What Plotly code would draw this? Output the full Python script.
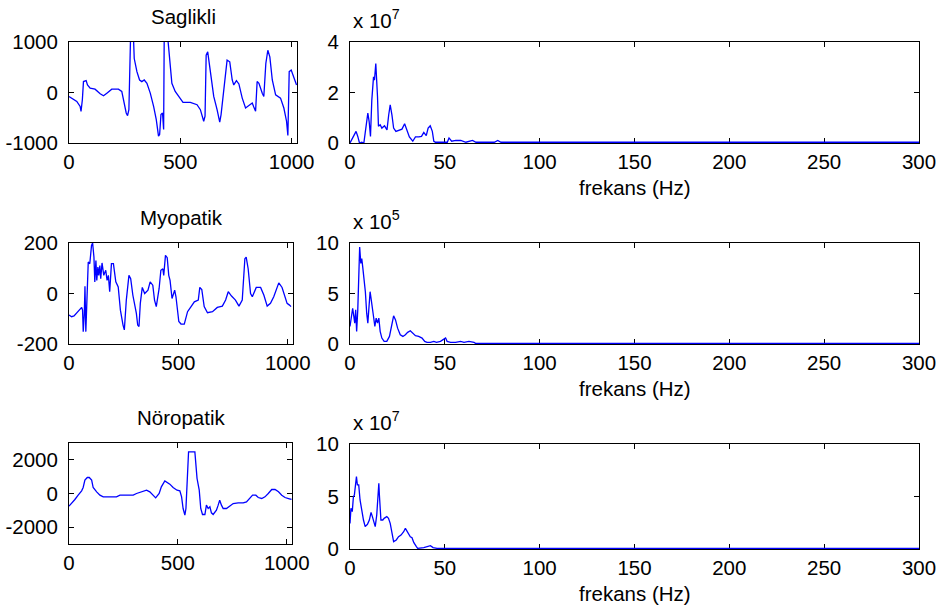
import plotly.graph_objects as go

# ---------------- data ----------------
# Time signals (sample index, amplitude)
sag_n = [0, 35, 50, 54, 60, 65, 77, 83, 95, 117, 140, 155, 170, 192, 222, 237, 257, 263, 269, 272, 278, 287,
         293, 305, 317, 327, 338, 350, 365, 380, 392, 402, 407, 413, 420, 425, 428, 437, 447, 455, 462, 477,
         497, 512, 545, 575, 590, 605, 611, 616, 623, 635, 650, 665, 677, 683, 698, 710, 722, 733, 740, 752,
         763, 778, 793, 808, 823, 830, 838, 845, 853, 868, 875, 884, 893, 902, 913, 928, 950, 965, 977, 983,
         989, 998, 1010, 1022]
sag_v = [-78, -176, -275, -373, -144, 216, 235, 150, 85, 65, -26, -65, -13, 65, 65, 20, -405, -458, -340, 575,
         1400, 1400, 673, 412, 248, 216, 248, 183, -13, -275, -536, -863, -830, -438, -405, -732, 1400, 1400,
         902, 510, 183, 20, -111, -196, -196, -242, -340, -569, -470, 739, 804, 444, -78, -340, -588, -438,
         118, 641, 608, 248, 150, 235, 170, -111, -307, -261, -209, -288, -373, 216, 183, -13, -78, 575, 837,
         706, 248, -46, -111, -307, -569, -850, 412, 444, 314, 150]

myo_n = [0, 12, 23, 42, 58, 62, 65, 70, 73, 77, 83, 88, 95, 103, 108, 114, 118, 123, 127, 132, 136, 141, 145,
         151, 159, 168, 174, 180, 186, 194, 203, 214, 225, 235, 247, 253, 262, 274, 282, 292, 308, 314, 320,
         326, 335, 346, 361, 371, 383, 391, 399, 412, 420, 429, 433, 441, 449, 456, 462, 471, 483, 489, 502,
         512, 527, 542, 558, 573, 591, 598, 607, 618, 633, 656, 678, 701, 716, 728, 743, 761, 777, 792, 804,
         810, 819, 830, 838, 856, 876, 891, 906, 921, 936, 959, 974, 986, 997, 1008, 1015]
myo_v = [-85, -92, -89, -72, -55, -66, -151, -79, 29, -151, 0, 125, 118, 190, 200, 144, 46, 131, 52, 105, 72,
         111, 59, 121, 72, 92, 52, 72, 7, 118, 118, 46, 26, -66, -125, -144, -26, 72, 59, -7, -79, -125, -131,
         -39, 24, 0, 13, 46, 33, -26, -52, 20, 92, 98, 72, 151, 142, 72, 52, -20, 13, -13, -111, -121, -121,
         -72, -52, -33, -26, 24, 16, -52, -76, -72, -55, -50, -26, 7, -10, -26, -50, -26, 138, 144, 98, 0,
         -13, 24, 24, -7, -50, -39, -13, 42, 24, -13, -39, -46, -52]

nor_n = [0, 12, 27, 42, 58, 65, 73, 84, 93, 104, 111, 127, 142, 157, 188, 218, 234, 295, 310, 333, 356, 371,
         386, 398, 414, 424, 440, 447, 463, 478, 496, 509, 517, 524, 532, 537, 543, 549, 578, 582, 588, 598,
         605, 613, 624, 631, 639, 647, 654, 662, 677, 685, 692, 700, 708, 723, 738, 754, 777, 800, 815, 831,
         843, 858, 869, 885, 900, 915, 931, 946, 962, 977, 992, 1012, 1022]
nor_v = [-750, -594, -356, -99, 158, 356, 792, 950, 950, 792, 356, 99, -99, -198, -198, -198, -99, -99, 0, 99,
         198, 99, -99, -257, 0, 396, 752, 693, 554, 356, 198, 158, -198, -891, -1287, -891, 990, 2475, 2475,
         1782, 891, 198, -891, -1247, -1247, -693, -891, -792, -1148, -1247, -990, -693, -396, -693, -891,
         -891, -752, -594, -554, -554, -495, -297, -99, -99, -238, -297, -198, 0, 238, 238, 99, -99, -238,
         -317, -356]

# Spectra (Hz, magnitude in units of the axis multiplier)
sag_f = [0, 0.9, 2.1, 3.2, 4.1, 5.0, 6.2, 7.3, 8.0, 8.8, 9.4, 10.1, 10.8, 11.5, 12.4, 12.9, 13.6, 14.5, 15.0,
         15.9, 16.8, 18.2, 19.5, 20.4, 21.2, 22.1, 23.0, 24.2, 25.7, 27.4, 28.8, 30.1, 31.3, 33.1, 34.5, 36.3,
         37.7, 38.9, 40.2, 41.2, 42.3, 43.4, 44.2, 45.1, 48.7, 51.3, 52.2, 53.6, 55.8, 58.4, 61.1, 62.8, 64.6,
         66.4, 76.1, 77.9, 79.6, 300]
sag_p = [0, 0.13, 0.26, 0.46, 0.26, 0, 0.03, 0, 0.39, 0.92, 1.18, 0.85, 0.26, 1.70, 2.62, 2.49, 3.15, 1.84,
         0.66, 0.72, 0.59, 0.68, 0.52, 1.11, 1.51, 1.11, 0.59, 0.46, 0.50, 0.55, 0.76, 0.52, 0.24, 0.07, 0.24,
         0.24, 0.26, 0.42, 0.29, 0.59, 0.68, 0.46, 0.07, 0.03, 0.03, 0.03, 0.20, 0.07, 0.10, 0.10, 0.03, 0.07,
         0.10, 0.03, 0.03, 0.10, 0.03, 0.03]

myo_f = [0, 0.9, 1.4, 1.9, 2.5, 3.0, 3.5, 4.1, 4.6, 5.1, 5.7, 6.2, 6.7, 7.4, 8.1, 8.8, 9.4, 9.9, 10.6, 11.1,
         11.7, 12.4, 13.1, 13.8, 14.5, 15.2, 15.9, 16.8, 18.0, 19.4, 20.8, 22.1, 23.0, 24.0, 25.1, 26.5, 27.9,
         29.2, 30.4, 31.8, 33.2, 34.5, 36.2, 38.0, 39.4, 40.6, 42.4, 44.2, 45.6, 47.7, 49.1, 50.4, 51.2, 53.0,
         55.7, 58.3, 60.1, 62.7, 65.4, 66.3, 300]
myo_p = [1.74, 3.05, 3.54, 2.89, 2.07, 3.38, 1.25, 3.38, 7.31, 9.61, 7.97, 8.46, 7.64, 6.66, 5.18, 3.05, 2.07,
         3.38, 5.18, 4.52, 3.38, 2.72, 1.74, 2.56, 2.07, 2.56, 1.25, 0.59, 0.26, 0.26, 0.75, 2.07, 2.79, 2.39,
         1.57, 0.92, 0.75, 0.92, 1.15, 1.31, 1.08, 0.82, 0.75, 0.59, 0.26, 0.16, 0.16, 0.26, 0.16, 0.26, 0.43,
         0.59, 0.26, 0.16, 0.16, 0.26, 0.16, 0.26, 0.16, 0.05, 0.05]

nor_f = [0, 0.5, 1.2, 1.8, 2.3, 2.8, 3.4, 3.9, 4.6, 5.3, 6.2, 7.1, 8.0, 9.2, 10.2, 11.1, 11.8, 12.4, 13.3, 14.1,
         14.7, 15.2, 15.5, 16.3, 17.3, 18.0, 19.4, 20.3, 21.2, 22.1, 23.0, 24.4, 25.6, 26.9, 28.3, 29.2, 30.0,
         30.9, 31.8, 32.7, 33.6, 35.0, 35.7, 38.9, 41.0, 42.4, 43.8, 45.9, 300]
nor_p = [2.44, 3.87, 3.56, 4.98, 5.14, 6.25, 6.89, 6.10, 6.10, 4.67, 3.56, 2.76, 2.13, 2.35, 2.76, 3.49, 3.08,
         2.60, 2.13, 3.24, 5.14, 6.25, 5.14, 2.76, 2.76, 2.92, 3.08, 2.92, 2.44, 1.49, 0.70, 0.86, 1.17, 1.33,
         1.65, 1.97, 1.71, 1.49, 1.17, 1.08, 0.63, 0.22, 0.06, 0.13, 0.22, 0.32, 0.13, 0.06, 0.06]

titles = ["Saglikli", "Myopatik", "Nöropatik"]
exponents = ["7", "5", "7"]
xlabel = "frekans (Hz)"
left_yticks = [[-1000, 0, 1000], [-200, 0, 200], [-2000, 0, 2000]]
left_yranges = [[-1000, 1000], [-200, 200], [-3000, 3000]]
right_yticks = [[0, 2, 4], [0, 5, 10], [0, 5, 10]]
right_yranges = [[0, 4], [0, 10], [0, 10]]
left_xticks = [0, 500, 1000]
right_xticks = [0, 50, 100, 150, 200, 250, 300]

# ---------------- layout geometry (pixels) ----------------
W, H = 937, 609
FONT = "Liberation Sans"
FS = 20.5
BLUE = "rgb(0,0,255)"

def dx(a, b):
    return [a / W, b / W]

def dy(top, bottom):
    return [1 - bottom / H, 1 - top / H]

left_x = [(69, 297), (69, 293), (69, 292)]
left_y = [(42, 143), (243, 344), (443, 544)]
right_x = [(350, 919), (350, 919), (350, 919)]
right_y = [(42, 143), (243, 344), (444, 549)]

signals = [(sag_n, sag_v), (myo_n, myo_v), (nor_n, nor_v)]
spectra = [(sag_f, sag_p), (myo_f, myo_p), (nor_f, nor_p)]

fig = go.Figure()
layout = dict(
    width=W, height=H, margin=dict(l=0, r=0, t=0, b=0, pad=0, autoexpand=False),
    paper_bgcolor="white", plot_bgcolor="white", showlegend=False,
    font=dict(family=FONT, size=FS, color="black"),
    annotations=[],
)

axis_common = dict(
    showline=True, linecolor="black", linewidth=1, mirror="ticks",
    ticks="inside", ticklen=5, tickcolor="black", tickwidth=1,
    showgrid=False, zeroline=False, layer="below traces", automargin=False,
    tickfont=dict(family=FONT, size=FS, color="black"),
)

for i in range(3):
    li = 2 * i + 1
    ri = 2 * i + 2
    lx = "x" if li == 1 else f"x{li}"
    ly = "y" if li == 1 else f"y{li}"
    rx, ry = f"x{ri}", f"y{ri}"

    fig.add_trace(go.Scatter(x=signals[i][0], y=signals[i][1], mode="lines",
                             line=dict(color=BLUE, width=1.3), xaxis=lx, yaxis=ly,
                             hoverinfo="skip"))
    fig.add_trace(go.Scatter(x=spectra[i][0], y=spectra[i][1], mode="lines",
                             line=dict(color=BLUE, width=1.3), xaxis=rx, yaxis=ry,
                             hoverinfo="skip"))

    lxname = "xaxis" if li == 1 else f"xaxis{li}"
    lyname = "yaxis" if li == 1 else f"yaxis{li}"
    layout[lxname] = dict(axis_common, domain=dx(*left_x[i]), anchor=ly, range=[0, 1024],
                          tickvals=left_xticks, ticktext=[str(v) for v in left_xticks])
    layout[lyname] = dict(axis_common, domain=dy(*left_y[i]), anchor=lx, range=left_yranges[i],
                          tickvals=left_yticks[i], ticktext=[str(v) for v in left_yticks[i]],
                          ticklabelstandoff=6)
    layout[f"xaxis{ri}"] = dict(axis_common, domain=dx(*right_x[i]), anchor=ry, range=[0, 300],
                                tickvals=right_xticks, ticktext=[str(v) for v in right_xticks])
    layout[f"yaxis{ri}"] = dict(axis_common, domain=dy(*right_y[i]), anchor=rx, range=right_yranges[i],
                                tickvals=right_yticks[i], ticktext=[str(v) for v in right_yticks[i]],
                                ticklabelstandoff=6)

    # subplot title over left panel
    cx = (left_x[i][0] + left_x[i][1]) / 2 / W
    layout["annotations"].append(dict(
        text=titles[i], x=cx, y=1 - (left_y[i][0] - 12) / H, xref="paper", yref="paper",
        xanchor="center", yanchor="bottom", showarrow=False, font=dict(family=FONT, size=FS)))
    # frequency axis label
    rcx = (right_x[i][0] + right_x[i][1]) / 2 / W
    layout["annotations"].append(dict(
        text=xlabel, x=rcx, y=1 - (right_y[i][1] + 31) / H, xref="paper", yref="paper",
        xanchor="center", yanchor="top", showarrow=False, font=dict(family=FONT, size=FS)))
    # exponent multiplier
    layout["annotations"].append(dict(
        text="x 10<sup>" + exponents[i] + "</sup>", x=(right_x[i][0] + 1) / W,
        y=1 - (right_y[i][0] - 8) / H, xref="paper", yref="paper",
        xanchor="left", yanchor="bottom", showarrow=False, font=dict(family=FONT, size=FS)))

fig.update_layout(**layout)
fig.write_html(
    "out.html",
    config={"displayModeBar": False},
    post_script="document.body.style.margin='0';document.body.style.overflow='hidden';",
)
